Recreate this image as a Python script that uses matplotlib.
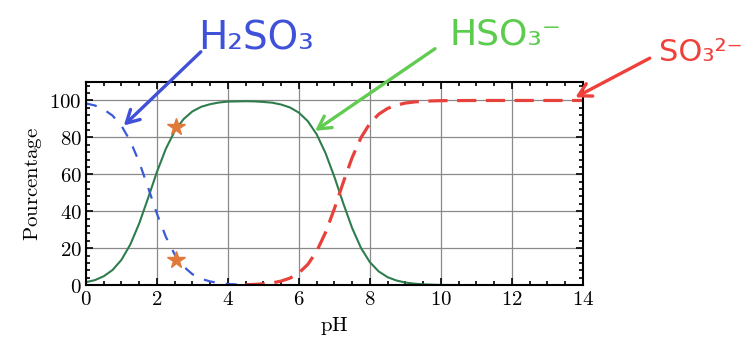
import numpy as np
import matplotlib
matplotlib.use("Agg")
import matplotlib.pyplot as plt
from matplotlib.ticker import MultipleLocator, FuncFormatter

plt.rcParams['mathtext.fontset'] = 'cm'

# values (percent of each species vs pH)
ph = [0, 0.25, 0.5, 0.75, 1, 1.25, 1.5, 1.75, 2, 2.25, 2.5, 2.75, 3,
      3.25, 3.5, 3.75, 4, 4.25, 4.5, 4.75, 5, 5.25, 5.5, 5.75, 6,
      6.25, 6.5, 6.75, 7, 7.25, 7.5, 7.75, 8, 8.25, 8.5,
      8.75, 9, 9.25, 9.5, 10, 11, 12, 13, 14]
h2so3 = [98.4, 97.3, 95.2, 91.8, 86.3, 78.0, 66.6, 52.9, 38.7, 26.2, 16.6, 10.1, 5.9,
         3.4, 2.0, 1.1, 0.6, 0.35, 0.2, 0.1, 0.1, 0, 0, 0, 0,
         0, 0, 0, 0, 0, 0, 0, 0, 0, 0,
         0, 0, 0, 0, 0, 0, 0, 0, 0]
hso3 = [1.6, 2.7, 4.8, 8.2, 13.7, 22.0, 33.4, 47.1, 61.3, 73.8, 83.4, 89.9, 94.1,
        96.6, 98.0, 98.9, 99.4, 99.5, 99.6, 99.5, 99.2, 98.8, 97.8, 96.2, 93.4,
        88.8, 81.7, 71.5, 58.6, 44.3, 30.9, 20.1, 12.4, 7.4, 4.3,
        2.5, 1.4, 0.8, 0.4, 0.1, 0, 0, 0, 0]
so3 = [0, 0, 0, 0, 0, 0, 0, 0, 0, 0, 0, 0, 0,
       0, 0, 0, 0, 0.1, 0.2, 0.4, 0.7, 1.2, 2.2, 3.8, 6.6,
       11.2, 18.3, 28.5, 41.4, 55.7, 69.1, 79.9, 87.6, 92.6, 95.7,
       97.5, 98.6, 99.2, 99.6, 99.9, 100, 100, 100, 100]

# hand-drawn marks on the chart
star_ph = [2.55, 2.55]
star_pct = [85.5, 13.5]

ph = np.array(ph)
h2so3 = np.array(h2so3)
hso3 = np.array(hso3)
so3 = np.array(so3)

fig = plt.figure(figsize=(7.54, 3.49), dpi=100)
ax = fig.add_axes([0.114, 0.183, 0.659, 0.582])

low = ph <= 5
high = ph >= 4.5
ax.plot(ph, hso3, color='#2f7d4e', lw=1.5, zorder=2)
ax.plot(ph[low], h2so3[low], color='#3a5bd8', lw=1.6, ls=(0, (5, 5)), zorder=2)
ax.plot(ph[high], so3[high], color='#e8403a', lw=2.3, ls=(0, (6, 3)), zorder=2)
ax.plot(star_ph, star_pct, ls='none', marker='*', ms=13, color='#e07a3a', zorder=3)

ax.set_xlim(0, 14)
ax.set_ylim(0, 110)
ax.xaxis.set_major_locator(MultipleLocator(2))
ax.xaxis.set_minor_locator(MultipleLocator(0.5))
ax.yaxis.set_major_locator(MultipleLocator(20))
ax.yaxis.set_minor_locator(MultipleLocator(4))
fmt = FuncFormatter(lambda v, p: r'$%d$' % v if v <= 100 else '')
ax.xaxis.set_major_formatter(fmt)
ax.yaxis.set_major_formatter(fmt)
ax.tick_params(which='both', direction='in', top=True, right=True, labelsize=15, width=1.2)
ax.tick_params(which='major', length=5, pad=3)
ax.tick_params(which='minor', length=3)
ax.grid(True, which='major', color='#8a8a8a', lw=0.9)
for s in ax.spines.values():
    s.set_linewidth(1.5)

ax.set_xlabel(r'$\mathrm{pH}$', fontsize=15, labelpad=4)
ax.set_ylabel(r'$\mathrm{Pourcentage}$', fontsize=15, labelpad=4)

# handwritten-style labels and arrows
fig.text(0.340, 0.890, 'H₂SO₃', color='#3f51d9', fontsize=28, ha='center', va='center')
fig.text(0.670, 0.900, 'HSO₃⁻', color='#5ccc4e', fontsize=26, ha='center', va='center')
fig.text(0.985, 0.850, 'SO₃²⁻', color='#f0403a', fontsize=22, ha='right', va='center')

arrows = [((1.01, 85.4), (0.269, 0.857), '#4050d8'),
          ((6.39, 82.7), (0.580, 0.865), '#62cc52'),
          ((13.72, 101.0), (0.865, 0.837), '#f0403a')]
for tip, tail, c in arrows:
    ax.annotate('', xy=tip, xycoords='data', xytext=tail, textcoords='figure fraction',
                arrowprops=dict(arrowstyle='->,head_length=0.9,head_width=0.5', color=c, lw=2.4),
                annotation_clip=False, zorder=4)

fig.savefig('out.png', dpi=100)
